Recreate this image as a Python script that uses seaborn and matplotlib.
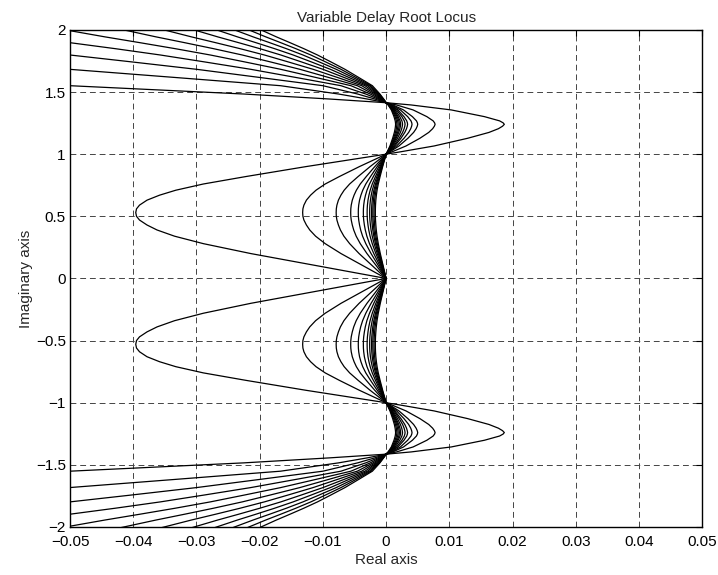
import numpy as np
import pandas as pd
import matplotlib
matplotlib.use("Agg")
import matplotlib.pyplot as plt
import seaborn as sns

# ---------------- data ----------------
# crossing points of the loci on the imaginary axis
y_zero = 0.0
y_one = 1.0
y_top = 1.414

# middle lobes (between 0 and +/-1): leftmost real part of every branch
mid_tips = [-0.0396, -0.0132, -0.0079, -0.0056, -0.0044, -0.0036,
            -0.0030, -0.0026, -0.0023, -0.0021, -0.0019, -0.0017]
# shape of a middle lobe (fraction of the span 0..1, fraction of the tip)
mid_shape_y = [0.0, 0.10, 0.20, 0.28, 0.34, 0.39, 0.43, 0.47, 0.50, 0.53,
               0.56, 0.59, 0.63, 0.67, 0.71, 0.76, 0.82, 0.90, 1.0]
mid_shape_x = [0.0, 0.27, 0.54, 0.73, 0.845, 0.915, 0.955, 0.985, 0.997, 1.0,
               0.997, 0.985, 0.955, 0.905, 0.84, 0.73, 0.56, 0.32, 0.0]

# right lobes (between +/-1 and +/-1.414): rightmost real part of every branch
right_tips = [0.0187, 0.00775, 0.0050, 0.0041, 0.0034, 0.0030,
              0.0026, 0.0023, 0.0021, 0.0019, 0.0017, 0.0015]
right_shape_y = [1.0, 1.02, 1.066, 1.128, 1.175, 1.205, 1.225, 1.24, 1.252,
                 1.268, 1.302, 1.356, 1.396, 1.414]
right_shape_x = [0.0, 0.128, 0.406, 0.69, 0.87, 0.95, 0.985, 1.0, 0.99,
                 0.96, 0.832, 0.551, 0.212, 0.0]

# outer fans (above +/-1.414): spread of every branch to the left
fan_scales = [0.0500, 0.0167, 0.0100, 0.00714, 0.00556, 0.00455,
              0.00385, 0.00333, 0.00294, 0.00263, 0.00238, 0.00217]
fan_shape_dy = [0.0, 0.03, 0.07, 0.137, 0.20, 0.269, 0.33, 0.384,
                0.435, 0.483, 0.53, 0.58, 0.62]
fan_shape_f = [0.0, 0.18, 0.45, 1.0, 1.95, 3.0, 4.05, 5.0,
               6.0, 7.0, 8.0, 9.0, 9.8]

x_ticks = [-0.05, -0.04, -0.03, -0.02, -0.01, 0, 0.01, 0.02, 0.03, 0.04, 0.05]
x_tick_labels = ["\u22120.05", "\u22120.04", "\u22120.03", "\u22120.02", "\u22120.01",
                 "0", "0.01", "0.02", "0.03", "0.04", "0.05"]
y_ticks = [-2, -1.5, -1, -0.5, 0, 0.5, 1, 1.5, 2]
y_tick_labels = ["\u22122", "\u22121.5", "\u22121", "\u22120.5", "0", "0.5", "1", "1.5", "2"]

# ---------------- assemble the curves ----------------
rows = []
cid = 0
for sign in (1, -1):
    for tip in mid_tips:
        for fy, fx in zip(mid_shape_y, mid_shape_x):
            rows.append((cid, tip * fx, sign * (y_zero + fy * (y_one - y_zero))))
        cid += 1
    for tip in right_tips:
        for fy, fx in zip(right_shape_y, right_shape_x):
            rows.append((cid, tip * fx, sign * fy))
        cid += 1
    for sc in fan_scales:
        for dy, f in zip(fan_shape_dy, fan_shape_f):
            rows.append((cid, -sc * f, sign * (y_top + dy)))
        cid += 1
df = pd.DataFrame(rows, columns=["curve", "x", "y"])

# ---------------- plot ----------------
sns.set_theme(style="white")
plt.rcParams["font.family"] = ["Liberation Sans", "DejaVu Sans"]

fig = plt.figure(figsize=(7.18, 5.75), dpi=100)
ax = fig.add_axes([0.0975, 0.0835, 0.8805, 0.8645])

sns.lineplot(data=df, x="x", y="y", units="curve", estimator=None, sort=False,
             color="black", linewidth=0.9, ax=ax, legend=False)

ax.set_xlim(-0.05, 0.05)
ax.set_ylim(-2, 2)
ax.set_xticks(x_ticks)
ax.set_xticklabels(x_tick_labels)
ax.set_yticks(y_ticks)
ax.set_yticklabels(y_tick_labels)
ax.grid(True, color="#444444", linestyle=(0, (6, 4)), linewidth=0.7)
ax.tick_params(direction="in", length=4, width=0.8, top=True, right=True,
               labelsize=11, colors="black")
ax.tick_params(axis="x", pad=6)
ax.tick_params(axis="y", pad=3)
for s in ax.spines.values():
    s.set_color("black")
    s.set_linewidth(1.0)
ax.set_xlabel("Real axis", fontsize=11, labelpad=3)
ax.set_ylabel("Imaginary axis", fontsize=11, labelpad=2)
ax.set_title("Variable Delay Root Locus", fontsize=11, pad=6)

fig.savefig("out.png", dpi=100)
